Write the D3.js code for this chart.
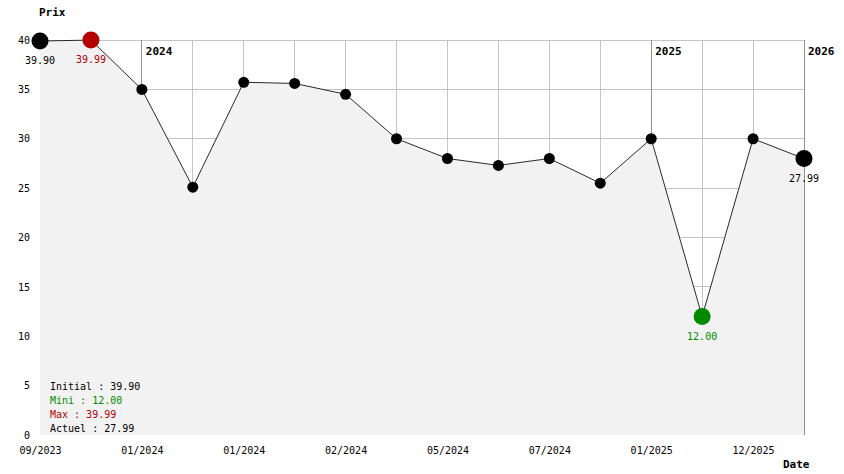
<!DOCTYPE html>
<html>
<head>
<meta charset="utf-8">
<script src="https://cdn.jsdelivr.net/npm/d3@7"></script>
<style>
  body { margin: 0; background: #fff; }
  text { font-family: "DejaVu Sans Mono", "Liberation Mono", monospace; }
</style>
</head>
<body>
<div id="chart"></div>
<script>
// price history, one point per reading
const prices = [39.90, 39.99, 35.0, 25.1, 35.72, 35.6, 34.5, 30.0, 28.0, 27.3, 28.0, 25.5, 30.0, 12.00, 30.0, 27.99];
// date labels under the axis ("" = no label)
const dateLabels = ["09/2023", "", "01/2024", "", "01/2024", "", "02/2024", "", "05/2024", "", "07/2024", "", "01/2025", "", "12/2025", ""];
// year change markers
const yearLabels = ["", "", "2024", "", "", "", "", "", "", "", "", "", "2025", "", "", "2026"];
const yTicks = [0, 5, 10, 15, 20, 25, 30, 35, 40];

const svgWidth = 844;
const svgHeight = 474;
const margin = { top: 40, right: 40, bottom: 39, left: 40 };

const svg = d3.select("#chart")
  .append("svg")
  .attr("width", svgWidth)
  .attr("height", svgHeight);

const idx = prices.map((d, i) => i);

const x = d3.scalePoint()
  .domain(idx)
  .range([margin.left, svgWidth - margin.right]);

const y = d3.scaleLinear()
  .domain([0, 40])
  .range([svgHeight - margin.bottom, margin.top]);

// grid
const grid = svg.append("g");
grid.selectAll("line.h")
  .data(yTicks.filter(d => d > 0))
  .enter().append("line")
  .attr("x1", margin.left).attr("x2", svgWidth - margin.right)
  .attr("y1", d => y(d)).attr("y2", d => y(d))
  .attr("stroke", "#c4c4c4").attr("shape-rendering", "crispEdges");
grid.selectAll("line.v")
  .data(idx)
  .enter().append("line")
  .attr("x1", d => x(d)).attr("x2", d => x(d))
  .attr("y1", y(40)).attr("y2", y(0))
  .attr("stroke", d => yearLabels[d] ? "#909090" : "#c4c4c4")
  .attr("shape-rendering", "crispEdges");

// filled area under the line (hides the grid)
const area = d3.area()
  .x((d, i) => x(i))
  .y0(y(0))
  .y1(d => y(d));
svg.append("path")
  .datum(prices)
  .attr("d", area)
  .attr("fill", "#f2f2f2");

// year labels
svg.append("g").selectAll("text")
  .data(idx.filter(i => yearLabels[i]))
  .enter().append("text")
  .attr("x", i => x(i) + 4)
  .attr("y", 55)
  .attr("font-size", 11)
  .attr("font-weight", "bold")
  .text(i => yearLabels[i]);

// line
const line = d3.line()
  .x((d, i) => x(i))
  .y(d => y(d));
svg.append("path")
  .datum(prices)
  .attr("d", line)
  .attr("fill", "none")
  .attr("stroke", "#2a2a2a")
  .attr("stroke-width", 1);

// highlighted points
const minV = d3.min(prices), maxV = d3.max(prices);
const iMin = prices.indexOf(minV), iMax = prices.indexOf(maxV);
const iFirst = 0, iLast = prices.length - 1;
const special = { [iFirst]: "#000", [iLast]: "#000", [iMin]: "#008a00", [iMax]: "#b30000" };

svg.append("g").selectAll("circle")
  .data(prices)
  .enter().append("circle")
  .attr("cx", (d, i) => x(i))
  .attr("cy", d => y(d))
  .attr("r", (d, i) => special[i] ? 8.5 : 5.5)
  .attr("fill", (d, i) => special[i] || "#000");

svg.append("g").selectAll("text")
  .data(Object.keys(special).map(Number))
  .enter().append("text")
  .attr("x", i => x(i))
  .attr("y", i => y(prices[i]) + 23)
  .attr("text-anchor", "middle")
  .attr("font-size", 10)
  .attr("fill", i => special[i])
  .text(i => prices[i].toFixed(2));

// y axis labels
const yAxis = svg.append("g")
  .attr("transform", `translate(${margin.left - 10}, 0)`)
  .call(d3.axisLeft(y).tickValues(yTicks).tickSize(0).tickPadding(0));
yAxis.select(".domain").remove();
yAxis.selectAll("text")
  .attr("font-family", "DejaVu Sans Mono, monospace")
  .attr("font-size", 10)
  .attr("fill", "#000");

// x axis labels
const xAxis = svg.append("g")
  .attr("transform", `translate(0, ${y(0) + 12})`)
  .call(d3.axisBottom(x).tickFormat(i => dateLabels[i]).tickSize(0).tickPadding(0));
xAxis.select(".domain").remove();
xAxis.selectAll("text")
  .attr("font-family", "DejaVu Sans Mono, monospace")
  .attr("font-size", 10)
  .attr("fill", "#000");

// axis titles
svg.append("text")
  .attr("x", 39).attr("y", 16)
  .attr("font-size", 11).attr("font-weight", "bold")
  .text("Prix");
svg.append("text")
  .attr("x", 783).attr("y", 468)
  .attr("font-size", 11).attr("font-weight", "bold")
  .text("Date");

// summary
const summary = [
  { label: "Initial : " + prices[iFirst].toFixed(2), color: "#000" },
  { label: "Mini : " + minV.toFixed(2), color: "#008a00" },
  { label: "Max : " + maxV.toFixed(2), color: "#b30000" },
  { label: "Actuel : " + prices[iLast].toFixed(2), color: "#000" }
];
svg.append("g").selectAll("text")
  .data(summary)
  .enter().append("text")
  .attr("x", 50)
  .attr("y", (d, i) => 390 + i * 14)
  .attr("font-size", 10)
  .attr("fill", d => d.color)
  .text(d => d.label);
</script>
</body>
</html>
